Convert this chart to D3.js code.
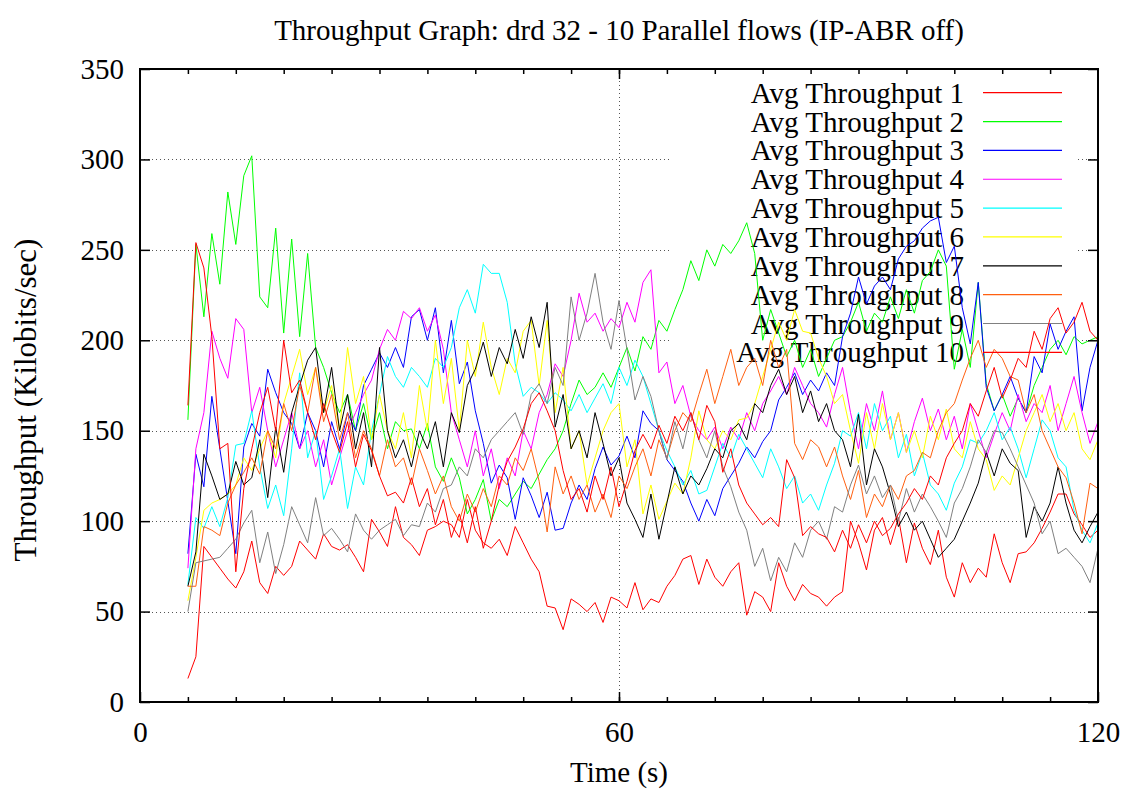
<!DOCTYPE html>
<html>
<head>
<meta charset="utf-8">
<script src="https://cdn.jsdelivr.net/npm/d3@7"></script>
<style>
  body { margin: 0; background: #fff; }
  text { font-family: "Liberation Serif", "Times New Roman", serif; fill: #000; }
</style>
</head>
<body>
<div id="chart"></div>
<script>
// sample times (s)
var secs = [6,7,8,9,10,11,12,13,14,15,16,17,18,19,20,21,22,23,24,25,26,27,28,29,30,
  31,32,33,34,35,36,37,38,39,40,41,42,43,44,45,46,47,48,49,50,51,52,53,54,55,
  56,57,58,59,60,61,62,63,64,65,66,67,68,69,70,71,72,73,74,75,76,77,78,79,80,
  81,82,83,84,85,86,87,88,89,90,91,92,93,94,95,96,97,98,99,100,101,102,103,104,105,
  106,107,108,109,110,111,112,113,114,115,116,117,118,119,120];

// throughput per flow (Kilobits/sec)
var flow1 = [13,25,86,80,74,68,63,72,89,66, 60,75,70,75,89,84,79,93,86,84,
  87,80,72,101,94,86,108,91,87,81, 95,97,100,98,91,112,95,88,85,90,
  81,97,88,79,72,53,52,40,57,54, 50,55,44,58,56,52,66,51,57,55,
  64,70,79,81,65,79,69,64,72,77, 48,61,58,50,77,64,56,65,60,58,
  53,58,61,100,88,73,95,102,87,102, 77,99,85,76,95,69,58,77,66,74,
  69,93,77,66,82,83,88,96,105,115, 115,104,98,91,95];
var flow2 = [156,253,213,259,231,282,253,291,302,224, 218,262,204,256,202,248,196,185,171,160,
  170,150,165,145,160,140,155,150,151,140, 154,130,122,135,124,104,112,123,100,112,
  108,115,122,118,126,134,140,150,165,178, 170,174,182,174,185,196,183,202,195,211,
  205,217,228,244,233,250,241,253,248,255, 265,248,200,217,204,191,200,185,195,180,
  190,200,202,210,221,205,215,210,224,212, 228,215,233,238,250,241,184,206,185,232,
  176,161,170,158,168,160,175,185,195,200, 192,202,198,200,202];
var flow3 = [82,137,119,169,140,111,82,141,154,147, 184,171,160,154,140,160,150,130,155,140,
  160,150,175,184,193,185,196,185,213,217, 200,218,182,211,176,188,161,143,121,131,
  124,101,124,114,102,116,95,96,110,120, 112,129,141,131,136,147,135,161,154,150,
  134,128,122,110,100,112,103,118,125,132, 141,135,144,150,167,174,182,170,178,172,
  182,175,202,215,235,220,230,235,228,245, 252,255,262,266,268,243,252,218,198,232,
  174,161,170,180,168,160,191,182,209,195, 205,213,161,185,200];
var flow4 = [74,140,160,205,190,179,212,206,160,174, 150,130,145,160,140,150,130,145,120,135,
  150,160,170,178,195,206,200,216,212,218, 205,214,195,160,145,130,150,125,140,118,
  135,125,150,140,160,170,187,180,200,226, 210,215,205,212,207,221,210,232,239,182,
  188,165,175,158,150,145,152,140,152,145, 160,150,165,172,180,170,185,175,165,160,
  152,170,185,160,140,165,150,172,145,160, 138,155,168,150,162,145,158,140,165,150,
  135,148,160,150,170,155,165,160,175,150, 165,180,160,143,155];
var flow5 = [65,102,96,108,97,113,142,143,161,130, 107,120,103,140,182,135,150,112,125,140,
  107,130,120,150,170,191,180,174,185,180, 174,190,185,196,218,228,215,242,237,237,
  221,187,169,174,171,165,171,167,161,170, 160,168,176,165,185,175,189,180,165,150,
  139,130,120,128,115,117,130,143,135,148, 140,132,124,140,130,118,125,110,115,106,
  120,132,150,147,160,140,165,150,158,135, 148,125,138,120,115,106,121,130,145,143,
  150,160,145,152,140,124,140,156,150,135, 130,106,95,88,99];
var flow6 = [56,80,106,110,112,115,120,135,128,140, 150,135,165,180,195,170,185,160,175,150,
  196,165,180,145,170,150,140,160,135,175, 150,200,165,190,150,200,180,210,185,170,
  190,182,205,211,175,211,160,185,140,150, 120,135,150,160,165,130,145,104,120,101,
  111,121,115,135,161,145,140,150,145,156, 157,165,180,195,210,200,217,205,204,190,
  180,165,170,150,132,160,140,165,145,160, 138,150,135,158,145,162,140,135,155,140,
  134,117,125,120,135,150,160,170,155,165, 150,160,140,134,145];
var flow7 = [64,83,137,125,112,115,133,120,124,145, 113,152,127,160,175,189,196,160,185,150,
  170,140,160,130,196,150,135,145,130,150, 140,155,130,160,149,175,184,199,180,196,
  187,206,190,213,196,221,152,170,140,150, 135,160,143,125,135,110,101,91,115,90,
  110,130,115,125,120,129,140,135,150,154, 145,165,160,175,184,170,180,160,172,155,
  165,150,145,130,159,120,140,130,115,97, 105,95,100,90,80,85,90,100,110,121,
  138,125,140,132,128,91,108,100,110,130, 110,95,88,97,105];
var flow8 = [64,64,97,95,92,110,120,127,135,126, 150,140,165,150,175,160,185,155,170,145,
  160,135,150,140,125,145,130,135,120,140, 128,115,125,108,100,115,105,118,108,125,
  120,135,128,140,122,94,130,115,125,112, 120,105,115,102,125,118,130,140,125,145,
  135,150,160,155,170,184,165,180,195,175, 185,190,175,200,185,195,143,134,145,141,
  130,141,125,112,128,102,115,108,120,112, 125,128,138,135,150,160,165,178,190,200,
  185,195,190,180,178,160,170,150,140,130, 124,110,93,121,118];
var flow9 = [50,77,78,79,80,85,90,99,106,77, 94,71,87,108,98,88,113,92,96,90,
  83,104,95,90,95,98,101,92,98,97, 110,105,118,120,130,125,140,135,145,150,
  155,160,148,170,176,165,185,175,224,200, 215,237,210,195,222,195,167,180,169,150,
  134,155,140,160,145,135,150,130,119,105, 95,75,85,67,80,72,88,80,95,100,
  90,108,105,120,131,115,125,113,120,100, 118,105,115,108,100,91,110,118,130,145,
  138,150,149,140,130,120,110,93,100,82, 85,80,75,66,85];
var flow10 = [164,254,240,202,140,143,72,118,140,160, 174,150,200,171,178,160,145,165,150,138,
  155,130,148,139,125,114,116,110,124,108, 118,98,112,91,104,88,108,85,100,120,
  133,141,151,165,171,161,150,128,112,118, 105,125,112,130,108,122,139,148,140,153,
  143,158,150,160,145,164,155,127,140,120, 110,104,98,102,97,134,124,92,97,93,
  91,83,95,85,98,88,100,92,96,104, 110,118,112,125,120,135,143,150,165,158,
  172,185,168,178,190,185,205,195,212,218, 204,210,221,205,200];

var flowNames = ["Avg Throughput 1","Avg Throughput 2","Avg Throughput 3","Avg Throughput 4",
  "Avg Throughput 5","Avg Throughput 6","Avg Throughput 7","Avg Throughput 8",
  "Avg Throughput 9","Avg Throughput 10"];
var flowColors = ["#ff0000","#00ff00","#0000ff","#ff00ff","#00ffff",
  "#ffff00","#000000","#ff6010","#808080","#ff0000"];
var yTicks = [0,50,100,150,200,250,300,350];
var xTicks = [0,60,120];

var flows = [flow1,flow2,flow3,flow4,flow5,flow6,flow7,flow8,flow9,flow10];

var W = 1125, H = 792;
var margin = {top: 69, right: 27, bottom: 90, left: 140};
var width = W - margin.left - margin.right,
    height = H - margin.top - margin.bottom;

var svg = d3.select("#chart").append("svg")
    .attr("width", W).attr("height", H);

var x = d3.scaleLinear().domain([0, 120]).range([margin.left, margin.left + width]);
var y = d3.scaleLinear().domain([0, 350]).range([margin.top + height, margin.top]);

// key area (grid is not drawn through it)
var keyLeft = 672, keyRight = 1078, keyTop = 78, keyBottom = 368;

// grid
var grid = svg.append("g").attr("stroke", "#555").attr("stroke-width", 1)
    .attr("stroke-dasharray", "1,3");
yTicks.filter(function(d) { return d > 0 && d < 350; }).forEach(function(d) {
  var yy = Math.round(y(d)) + 0.5;
  if (yy > keyTop && yy < keyBottom) {
    grid.append("line").attr("x1", x(0)).attr("x2", keyLeft).attr("y1", yy).attr("y2", yy);
    grid.append("line").attr("x1", keyRight).attr("x2", x(120)).attr("y1", yy).attr("y2", yy);
  } else {
    grid.append("line").attr("x1", x(0)).attr("x2", x(120)).attr("y1", yy).attr("y2", yy);
  }
});
grid.append("line").attr("x1", Math.round(x(60)) + 0.5).attr("x2", Math.round(x(60)) + 0.5)
    .attr("y1", y(0)).attr("y2", y(350));

// key text
var key = svg.append("g");
flowNames.forEach(function(n, i) {
  var cy = 92.7 + 28.85 * i;
  key.append("text").attr("x", 964).attr("y", cy + 10)
     .attr("text-anchor", "end").style("font-size", "29px").text(n);
});

// lines
var line = d3.line()
    .x(function(d, i) { return x(secs[i]); })
    .y(function(d) { return y(d); });

flows.forEach(function(f, i) {
  svg.append("path").datum(f)
     .attr("fill", "none")
     .attr("stroke", flowColors[i])
     .attr("stroke-width", 1)
     .attr("d", line);
  var cy = 92.7 + 28.85 * i;
  svg.append("line").attr("x1", 983).attr("x2", 1062).attr("y1", cy).attr("y2", cy)
     .attr("stroke", flowColors[i]).attr("stroke-width", 1.2);
});

// axes
var bottomAxis = svg.append("g").attr("transform", "translate(0," + y(0) + ")")
    .call(d3.axisBottom(x).tickValues(xTicks).tickSize(-10).tickPadding(19).tickFormat(d3.format("d")));
var bottomMinor = svg.append("g").attr("transform", "translate(0," + y(0) + ")")
    .call(d3.axisBottom(x).tickValues(d3.range(6, 120, 6)).tickSize(-5).tickFormat(""));
var topMinor = svg.append("g").attr("transform", "translate(0," + y(350) + ")")
    .call(d3.axisTop(x).tickValues(d3.range(6, 120, 6)).tickSize(-5).tickFormat(""));
var topMajor = svg.append("g").attr("transform", "translate(0," + y(350) + ")")
    .call(d3.axisTop(x).tickValues([60]).tickSize(-10).tickFormat(""));
var leftAxis = svg.append("g").attr("transform", "translate(" + x(0) + ",0)")
    .call(d3.axisLeft(y).tickValues(yTicks).tickSize(-10).tickPadding(16));
var rightAxis = svg.append("g").attr("transform", "translate(" + x(120) + ",0)")
    .call(d3.axisRight(y).tickValues(yTicks).tickSize(-10).tickFormat(""));

[bottomAxis, bottomMinor, topMinor, topMajor, leftAxis, rightAxis].forEach(function(a) {
  a.select(".domain").remove();
  a.selectAll(".tick line").attr("stroke", "#000").attr("stroke-width", 1.5);
  a.selectAll("text").style("font-size", "29px")
   .style("font-family", "'Liberation Serif', 'Times New Roman', serif").attr("fill", "#000");
});

// border
svg.append("rect").attr("x", x(0)).attr("y", y(350))
   .attr("width", x(120) - x(0)).attr("height", y(0) - y(350))
   .attr("fill", "none").attr("stroke", "#000").attr("stroke-width", 2);

// titles
svg.append("text").attr("x", (x(0) + x(120)) / 2).attr("y", 40)
   .attr("text-anchor", "middle").style("font-size", "29px")
   .text("Throughput Graph: drd 32 - 10 Parallel flows (IP-ABR off)");
svg.append("text").attr("x", (x(0) + x(120)) / 2).attr("y", 782)
   .attr("text-anchor", "middle").style("font-size", "29px").text("Time (s)");
svg.append("text").attr("transform", "translate(36,400) rotate(-90)")
   .attr("text-anchor", "middle").style("font-size", "31px").text("Throughput (Kilobits/sec)");
</script>
</body>
</html>
